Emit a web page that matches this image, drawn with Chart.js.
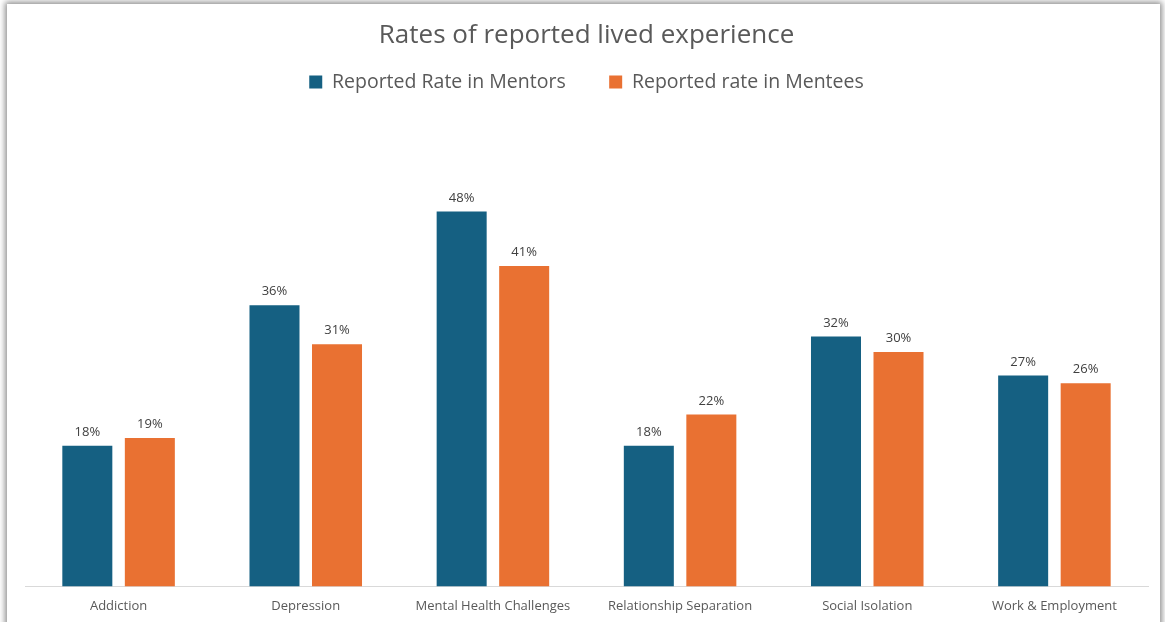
<!DOCTYPE html>
<html>
<head>
<meta charset="utf-8">
<title>Rates of reported lived experience</title>
<script src="https://cdn.jsdelivr.net/npm/chart.js@4.4.1/dist/chart.umd.min.js"></script>
<style>
  html, body { margin: 0; padding: 0; background: #ffffff; }
  body { width: 1165px; height: 622px; position: relative; overflow: hidden; }
  .card {
    position: absolute; left: 7px; top: 4px; width: 1153px; height: 630px;
    background: #ffffff;
    box-shadow: 0 0 6px 2px rgba(0, 0, 0, 0.45);
  }
  .wrap { position: absolute; left: 0; top: 0; width: 1153px; height: 614px; }
</style>
</head>
<body>
<div class="card"><div class="wrap"><canvas id="chart"></canvas></div></div>
<script>
const categories = ['Addiction', 'Depression', 'Mental Health Challenges', 'Relationship Separation', 'Social Isolation', 'Work & Employment'];
const mentorRates = [18, 36, 48, 18, 32, 27];
const menteeRates = [19, 31, 41, 22, 30, 26];
const seriesNames = ['Reported Rate in Mentors', 'Reported rate in Mentees'];
const seriesColors = ['#156082', '#E97132'];

const FONT = "'Open Sans', 'Noto Sans', sans-serif";
const TEXT = '#595959';

// Writes each bar's percentage just above its top edge
const valueLabels = {
  id: 'valueLabels',
  afterDatasetsDraw(chart) {
    const ctx = chart.ctx;
    ctx.save();
    ctx.font = '13px ' + FONT;
    ctx.fillStyle = '#404040';
    ctx.textAlign = 'center';
    ctx.textBaseline = 'bottom';
    chart.data.datasets.forEach((ds, i) => {
      chart.getDatasetMeta(i).data.forEach((bar, j) => {
        ctx.fillText(ds.data[j] + '%', bar.x, bar.y - 7);
      });
    });
    ctx.restore();
  }
};

// Leaves some empty room between the legend and the bars
const legendGap = {
  id: 'legendGap',
  afterInit(chart) {
    const legend = chart.legend;
    const fit = legend.fit;
    legend.fit = function () {
      fit.call(this);
      this.height += 16;
    };
  }
};

new Chart(document.getElementById('chart'), {
  type: 'bar',
  data: {
    labels: categories,
    datasets: [
      { label: seriesNames[0], data: mentorRates, backgroundColor: seriesColors[0] },
      { label: seriesNames[1], data: menteeRates, backgroundColor: seriesColors[1] }
    ]
  },
  options: {
    responsive: true,
    maintainAspectRatio: false,
    animation: false,
    categoryPercentage: 0.668,
    barPercentage: 0.8,
    layout: { padding: { left: 18, right: 12, top: 0, bottom: 0 } },
    plugins: {
      title: {
        display: true,
        text: 'Rates of reported lived experience',
        color: TEXT,
        font: { family: FONT, size: 26, weight: 'normal' },
        padding: { top: 16, bottom: -3 }
      },
      legend: {
        position: 'top',
        labels: {
          color: TEXT,
          font: { family: FONT, size: 19.5 },
          boxWidth: 13,
          boxHeight: 13,
          padding: 24,
          // a little extra room after the first entry
          generateLabels(chart) {
            const items = Chart.defaults.plugins.legend.labels.generateLabels(chart);
            items.forEach((it, i) => { if (i < items.length - 1) it.text += '\u2003'; });
            return items;
          }
        }
      },
      tooltip: { enabled: false }
    },
    scales: {
      x: {
        grid: { display: false },
        border: { display: true, color: '#d9d9d9', width: 1 },
        ticks: { color: TEXT, font: { family: FONT, size: 13 }, padding: 4, maxRotation: 0 }
      },
      y: {
        display: false,
        min: 0,
        max: 60
      }
    }
  },
  plugins: [valueLabels, legendGap]
});
</script>
</body>
</html>
